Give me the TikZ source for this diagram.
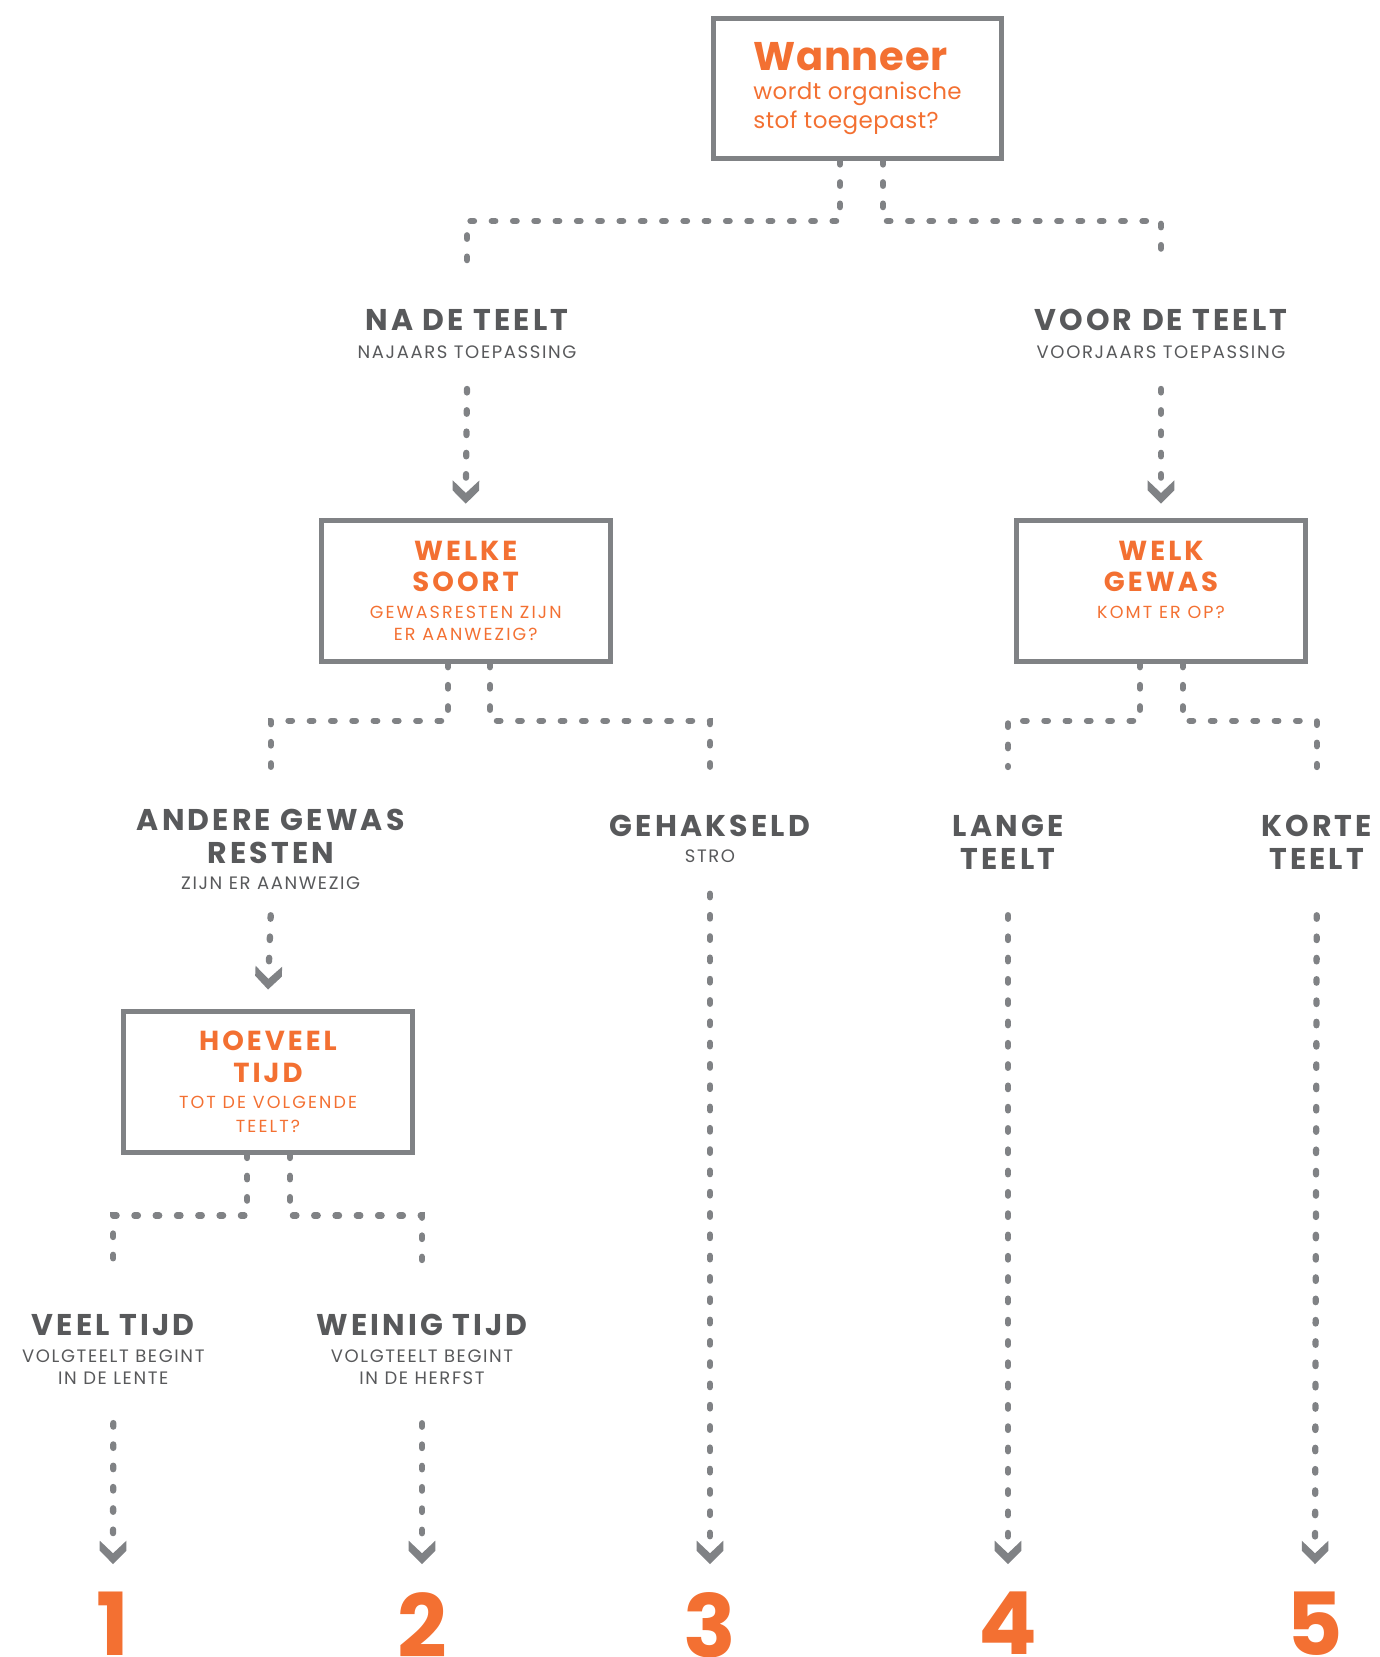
\documentclass[tikz,border=0pt]{standalone}
\usepackage{fontspec}
\setmainfont{Poppins}
\usepackage{xcolor}
\usetikzlibrary{positioning}
\definecolor{oranje}{RGB}{243,112,50}
\definecolor{donker}{RGB}{88,89,91}
\definecolor{lijn}{RGB}{128,130,133}

\newcommand{\vtitel}{\fontsize{27.5}{31.5}\selectfont\bfseries\addfontfeature{LetterSpace=11}}
\newcommand{\vsub}{\fontsize{17.5}{22}\selectfont\mdseries\addfontfeature{LetterSpace=12}}

% chevron arrow tip
\pgfdeclarearrow{
  name=chev,
  setup code={
    \pgfarrowssettipend{0pt}
    \pgfarrowssetlineend{-26pt}
    \pgfarrowssetbackend{-23.3pt}
    \pgfarrowssetvisualbackend{-23.3pt}
  },
  drawing code={
    \pgfpathmoveto{\pgfpointorigin}
    \pgfpathlineto{\pgfpoint{-13.3pt}{13.3pt}}
    \pgfpathlineto{\pgfpoint{-23.3pt}{13.3pt}}
    \pgfpathlineto{\pgfpoint{-10.7pt}{0pt}}
    \pgfpathlineto{\pgfpoint{-23.3pt}{-13.3pt}}
    \pgfpathlineto{\pgfpoint{-13.3pt}{-13.3pt}}
    \pgfpathclose
    \pgfusepathqfill
  }
}

\tikzset{
  vraag/.style={draw=lijn, line width=5pt, minimum width=289pt, minimum height=141pt,
    inner sep=0pt, align=center, text=oranje, font=\vtitel},
  kop/.style={text=donker, align=center, inner sep=0pt, anchor=north,
    font=\fontsize{30}{32.5}\selectfont\bfseries\addfontfeature{LetterSpace=10.5}},
  ondertitel/.style={text=donker, align=center, inner sep=0pt, anchor=north,
    font=\fontsize{18}{22.7}\selectfont\addfontfeature{LetterSpace=9}},
  tak/.style={lijn, line width=6.3pt, line cap=round, dash pattern=on 3.5pt off 17.8pt},
  pijl/.style={tak, -chev},
  getal/.style={text=oranje, inner sep=0pt, anchor=north,
    font=\fontsize{87}{87}\selectfont\bfseries}
}

\begin{document}
\begin{tikzpicture}[x=1pt, y=-1pt]
\useasboundingbox (0,0) rectangle (1379,1657);

% vragen
\node[vraag, minimum width=288pt, minimum height=140pt, align=left,
  font=\fontsize{23}{29}\selectfont\addfontfeature{LetterSpace=2}] (wanneer) at (857.5,88.5)
  {{\fontsize{40}{40}\selectfont\bfseries Wanneer}\\wordt organische\\stof toegepast?};
\node[vraag] (welkesoort) at (465.7,590.7)
  {WELKE\\SOORT\\[-4.2pt]\vsub GEWASRESTEN ZIJN\\[-9.8pt]\vsub ER AANWEZIG?};
\node[vraag] (welkgewas) at (1161,590.7)
  {WELK\\GEWAS\\[-4.2pt]\vsub KOMT ER OP?\\[-9.8pt]\vsub\mbox{}};
\node[vraag] (hoeveel) at (268,1081.5)
  {HOEVEEL\\TIJD\\[-4.8pt]\vsub TOT DE VOLGENDE\\[-8.2pt]\vsub TEELT?};

% antwoorden
\node[kop] (nadeteelt) at (467,309.3) {NA DE TEELT};
\node[ondertitel] (nadeteelt-sub) at (467,345.7) {NAJAARS TOEPASSING};
\node[kop] (voordeteelt) at (1161,309.3) {VOOR DE TEELT};
\node[ondertitel] (voordeteelt-sub) at (1161,345.7) {VOORJAARS TOEPASSING};
\node[kop] (andere) at (270.7,809.3) {ANDERE GEWAS\\RESTEN};
\node[ondertitel] (andere-sub) at (270.7,877) {ZIJN ER AANWEZIG};
\node[kop] (gehakseld) at (710,815) {GEHAKSELD};
\node[ondertitel] (gehakseld-sub) at (710,849.5) {STRO};
\node[kop] (lange) at (1008,815) {LANGE\\TEELT};
\node[kop] (korte) at (1316.7,815) {KORTE\\TEELT};
\node[kop] (veel) at (113.3,1314) {VEEL TIJD};
\node[ondertitel] (veel-sub) at (113.3,1349.3) {VOLGTEELT BEGINT\\IN DE LENTE};
\node[kop] (weinig) at (422,1314) {WEINIG TIJD};
\node[ondertitel] (weinig-sub) at (422,1349.3) {VOLGTEELT BEGINT\\IN DE HERFST};

% uitkomsten
\node[getal] (nr1) at (113,1592) {1};
\node[getal] (nr2) at (422,1592) {2};
\node[getal] (nr3) at (710,1592) {3};
\node[getal] (nr4) at (1008,1592) {4};
\node[getal] (nr5) at (1315,1592) {5};

% splitsingen
\draw[tak] ([xshift=-17.5pt]wanneer.south) -- ++(0,60) -| ([yshift=47pt]nadeteelt.north);
\draw[tak] ([xshift=25.5pt]wanneer.south) -- ++(0,60) -| ([yshift=47pt]voordeteelt.north);
\draw[tak] ([xshift=-17.7pt]welkesoort.south) -- ++(0,57) -| ([yshift=42pt]andere.north);
\draw[tak] ([xshift=24.3pt]welkesoort.south) -- ++(0,57) -| ([yshift=48pt]gehakseld.north);
\draw[tak] ([xshift=-21pt]welkgewas.south) -- ++(0,57) -| ([yshift=48pt]lange.north);
\draw[tak] ([xshift=21.7pt]welkgewas.south) -- ++(0,57) -| ([yshift=48pt]korte.north);
\draw[tak] ([xshift=-20.7pt]hoeveel.south) -- ++(0,61) -| ([yshift=54pt]veel.north);
\draw[tak] ([xshift=22pt]hoeveel.south) -- ++(0,61) -| ([yshift=54pt]weinig.north);

% pijlen
\draw[pijl] ([yshift=-30pt]nadeteelt-sub.south) -- ([yshift=14pt]welkesoort.north);
\draw[pijl] ([yshift=-30pt]voordeteelt-sub.south) -- ([yshift=14pt]welkgewas.north);
\draw[pijl] ([yshift=-25pt]andere-sub.south) -- ([yshift=19pt]hoeveel.north);
\draw[pijl] ([yshift=-38pt]veel-sub.south) -- ([yshift=28pt]nr1.north);
\draw[pijl] ([yshift=-38pt]weinig-sub.south) -- ([yshift=28pt]nr2.north);
\draw[pijl] ([yshift=-31pt]gehakseld-sub.south) -- ([yshift=28pt]nr3.north);
\draw[pijl] ([yshift=-46pt]lange.south) -- ([yshift=28pt]nr4.north);
\draw[pijl] ([yshift=-46pt]korte.south) -- ([yshift=28pt]nr5.north);

\end{tikzpicture}
\end{document}
